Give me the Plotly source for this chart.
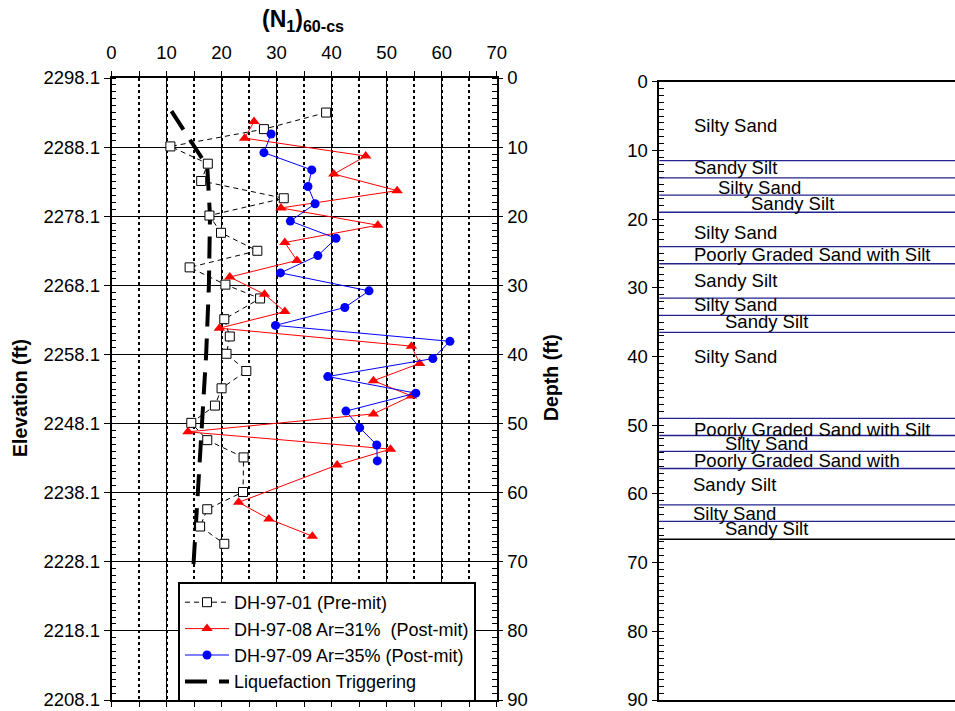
import plotly.graph_objects as go

# ---------------- data ----------------
x_ticks = [0, 10, 20, 30, 40, 50, 60, 70]
depth_ticks = [0, 10, 20, 30, 40, 50, 60, 70, 80, 90]
elevation_ticks = [2298.1, 2288.1, 2278.1, 2268.1, 2258.1, 2248.1, 2238.1, 2228.1, 2218.1, 2208.1]

pre_depth = [5.0, 7.4, 9.9, 12.4, 14.9, 17.4, 19.9, 22.4, 25.0, 27.4, 29.9, 31.9, 34.9,
             37.4, 39.9, 42.4, 44.9, 47.4, 49.9, 52.4, 54.9, 59.9, 62.4, 64.9, 67.4]
pre_n = [39.0, 27.7, 10.7, 17.5, 16.3, 31.3, 17.8, 19.9, 26.5, 14.2, 20.7, 27.0, 20.5,
         21.5, 20.9, 24.5, 20.0, 18.8, 14.5, 17.4, 24.0, 23.9, 17.4, 16.1, 20.5]

dh08_depth = [6.3, 8.7, 11.3, 13.9, 16.3, 18.8, 21.3, 23.8, 26.4, 28.8, 31.3, 33.8,
              36.2, 38.8, 41.3, 43.8, 46.0, 48.6, 51.2, 53.7, 56.0, 61.4, 63.8, 66.3]
dh08_n = [25.9, 24.2, 46.2, 40.4, 51.9, 30.8, 48.4, 31.5, 33.7, 21.5, 27.8, 31.5,
          19.6, 54.5, 56.0, 47.6, 54.5, 47.6, 13.9, 50.7, 41.0, 23.1, 28.6, 36.5]

dh09_depth = [8.1, 10.8, 13.3, 15.7, 18.2, 20.7, 23.2, 25.7, 28.2, 30.8, 33.2, 35.8,
              38.1, 40.6, 43.2, 45.6, 48.2, 50.6, 53.1, 55.4]
dh09_n = [29.0, 27.7, 36.4, 35.7, 37.0, 32.5, 40.8, 37.5, 30.7, 46.8, 42.4, 29.8,
          61.5, 58.4, 39.3, 55.3, 42.6, 45.1, 48.2, 48.3]

trig_depth = [4.8, 12.8, 20.0, 30.0, 40.0, 50.0, 60.0, 70.4]
trig_n = [10.9, 17.4, 17.9, 17.7, 17.2, 16.5, 15.8, 14.9]

layer_bounds = [11.5, 14.0, 16.5, 19.0, 24.0, 26.5, 31.5, 34.0, 36.5, 49.0, 51.5,
                53.8, 56.3, 61.6, 64.0, 66.6]
soil_labels = ["Silty Sand", "Sandy Silt", "Silty Sand", "Sandy Silt", "Silty Sand",
               "Poorly Graded Sand with Silt", "Sandy Silt", "Silty Sand", "Sandy Silt",
               "Silty Sand", "Poorly Graded Sand with Silt", "Silty Sand",
               "Poorly Graded Sand with", "Sandy Silt", "Silty Sand", "Sandy Silt"]
soil_label_depth = [6.4, 12.5, 15.4, 17.7, 21.9, 25.2, 29.0, 32.5, 34.9, 40.0, 50.6,
                    52.6, 55.2, 58.6, 62.8, 65.1]

# ---------------- layout helpers (positions) ----------------
W, H = 955, 711
label_px = [694, 694, 718, 751, 694, 694, 694, 694, 725, 694, 694, 725, 694, 693, 693, 725]
right_x0, right_x1 = 659.3, 955
FONT = "Arial, Liberation Sans, sans-serif"
TICK_SIZE = 18.5
TEXT_SIZE = 18.5

fig = go.Figure()

# dummy trace so the elevation axis renders
fig.add_trace(go.Scatter(x=[None], y=[None], xaxis="x", yaxis="y", showlegend=False,
                         hoverinfo="skip"))

fig.add_trace(go.Scatter(x=trig_n, y=trig_depth, xaxis="x", yaxis="y2", mode="lines",
                         name="Liquefaction Triggering", legendrank=4,
                         line=dict(color="black", width=4, dash="22px,12px")))
fig.add_trace(go.Scatter(x=pre_n, y=pre_depth, xaxis="x", yaxis="y2", mode="lines+markers",
                         name="DH-97-01 (Pre-mit)", legendrank=1,
                         line=dict(color="black", width=1, dash="5px,4px"),
                         marker=dict(symbol="square", size=9, color="white",
                                     line=dict(color="black", width=1))))
fig.add_trace(go.Scatter(x=dh08_n, y=dh08_depth, xaxis="x", yaxis="y2", mode="lines+markers",
                         name="DH-97-08 Ar=31%  (Post-mit)", legendrank=2,
                         line=dict(color="#ff0000", width=1),
                         marker=dict(symbol="triangle-up", size=10, color="#ff0000")))
fig.add_trace(go.Scatter(x=dh09_n, y=dh09_depth, xaxis="x", yaxis="y2", mode="lines+markers",
                         name="DH-97-09 Ar=35% (Post-mit)", legendrank=3,
                         line=dict(color="#0000ff", width=1),
                         marker=dict(symbol="circle", size=9, color="#0000ff")))

# right panel dummy
fig.add_trace(go.Scatter(x=[None], y=[None], xaxis="x3", yaxis="y3", showlegend=False,
                         hoverinfo="skip"))

left_dom_x = [111.5 / W, 496.7 / W]
left_dom_y = [(H - 700) / H, (H - 78) / H]
right_dom_x = [right_x0 / W, 1.0]
right_dom_y = [(H - 700) / H, (H - 81.7) / H]

tickfont = dict(family=FONT, size=TICK_SIZE, color="black")

fig.update_layout(
    width=W, height=H, margin=dict(l=0, r=0, t=0, b=0, autoexpand=False),
    paper_bgcolor="white", plot_bgcolor="white",
    font=dict(family=FONT, color="black"),
    xaxis=dict(domain=left_dom_x, anchor="y", side="top", range=[0, 70], automargin=False,
               tickmode="array", tickvals=x_ticks, ticks="outside", ticklen=5,
               ticklabelstandoff=5,
               tickcolor="black", showline=True, linecolor="black", linewidth=1.5,
               mirror="ticks", showgrid=True, gridcolor="black", gridwidth=1,
               zeroline=False, tickfont=tickfont,
               minor=dict(tick0=0, dtick=5, ticks="outside", ticklen=5, tickcolor="black",
                          showgrid=True, griddash="dot", gridcolor="black", gridwidth=2)),
    yaxis=dict(domain=left_dom_y, anchor="x", range=[2208.1, 2298.1], automargin=False,
               tickmode="array", tickvals=elevation_ticks,
               ticktext=[f"{v:.1f}" for v in elevation_ticks],
               ticks="outside", ticklen=6, tickcolor="black", showline=True,
               linecolor="black", linewidth=1.5, showgrid=True, gridcolor="black",
               gridwidth=1, zeroline=False, tickfont=tickfont,
               minor=dict(tickmode="linear", tick0=2208.1, dtick=1, ticks="inside",
                          ticklen=5, tickcolor="black", showgrid=False)),
    yaxis2=dict(overlaying="y", anchor="x", side="right", range=[90, 0], automargin=False,
                tickmode="array", tickvals=depth_ticks, ticks="outside", ticklen=5,
                tickcolor="black", showline=True, linecolor="black", linewidth=1.5,
                showgrid=False, zeroline=False, tickfont=tickfont,
                minor=dict(tickmode="linear", tick0=0, dtick=1, ticks="inside",
                           ticklen=5, tickcolor="black", showgrid=False)),
    xaxis3=dict(domain=right_dom_x, anchor="y3", range=[0, 1], side="top", automargin=False,
                showticklabels=False, ticks="", showline=True, linecolor="black",
                linewidth=1.5, mirror=True, showgrid=False, zeroline=False),
    yaxis3=dict(domain=right_dom_y, anchor="x3", range=[90, 0], automargin=False,
                tickmode="array", tickvals=depth_ticks, ticks="outside", ticklen=6,
                tickcolor="black", showline=True, linecolor="black", linewidth=1.5,
                showgrid=False, zeroline=False, tickfont=tickfont,
                minor=dict(tickmode="linear", tick0=0, dtick=1, ticks="inside",
                           ticklen=5, tickcolor="black", showgrid=False)),
    legend=dict(x=178 / W, y=(H - 582) / H, xanchor="left", yanchor="top",
                bgcolor="white", bordercolor="black", borderwidth=2, itemwidth=44,
                font=dict(family=FONT, size=18, color="black"), tracegroupgap=0),
    showlegend=True,
)

# layer boundaries in the right panel
for i, d in enumerate(layer_bounds):
    col = "#000000" if i == len(layer_bounds) - 1 else "#23238f"
    fig.add_shape(type="line", xref="x3 domain", yref="y3", x0=0, x1=1, y0=d, y1=d,
                  line=dict(color=col, width=1.3))

# soil labels
for lab, d, px in zip(soil_labels, soil_label_depth, label_px):
    fig.add_annotation(xref="x3", yref="y3", x=(px - right_x0) / (right_x1 - right_x0),
                       y=d, text=lab, showarrow=False, xanchor="left", yanchor="middle",
                       xshift=-2, font=dict(family=FONT, size=TEXT_SIZE, color="black"))

# titles
fig.add_annotation(xref="paper", yref="paper", x=303 / W, y=(H - 20) / H,
                   text="<b>(N<sub>1</sub>)<sub>60-cs</sub></b>", showarrow=False,
                   xanchor="center", yanchor="middle",
                   font=dict(family=FONT, size=23, color="black"))
fig.add_annotation(xref="paper", yref="paper", x=20 / W, y=(H - 398) / H,
                   text="<b>Elevation (ft)</b>", showarrow=False, textangle=-90,
                   xanchor="center", yanchor="middle",
                   font=dict(family=FONT, size=19.5, color="black"))
fig.add_annotation(xref="paper", yref="paper", x=551 / W, y=(H - 378) / H,
                   text="<b>Depth (ft)</b>", showarrow=False, textangle=-90,
                   xanchor="center", yanchor="middle",
                   font=dict(family=FONT, size=19.5, color="black"))

fig.write_html("out.html")
